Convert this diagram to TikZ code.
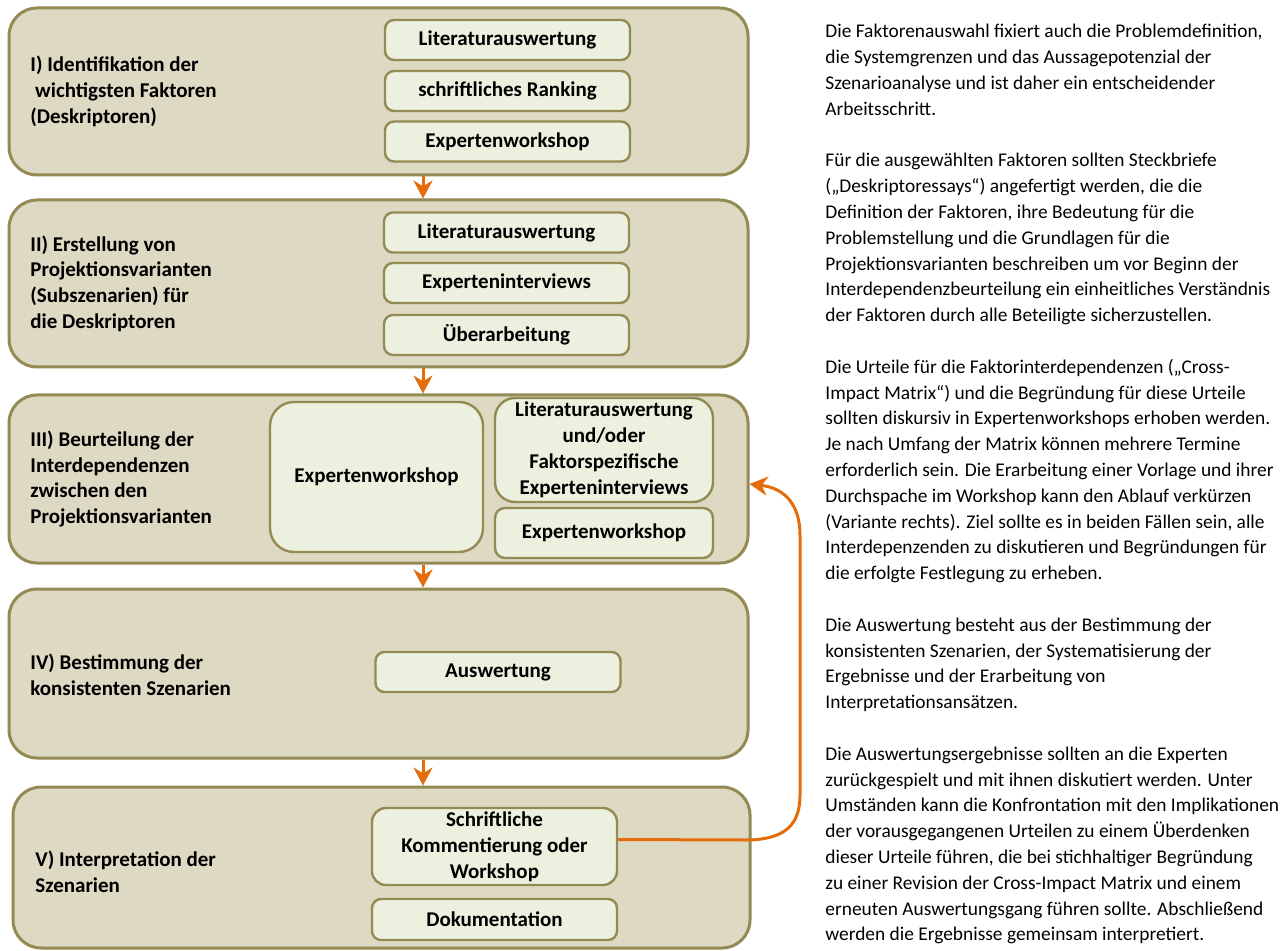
\documentclass[tikz,border=0pt]{standalone}
\usepackage{fontspec}
\setmainfont{Carlito}
\usetikzlibrary{arrows.meta}
\definecolor{stagefill}{HTML}{DDD9C3}
\definecolor{stageline}{HTML}{948A54}
\definecolor{taskfill}{HTML}{EBF1DE}
\definecolor{flowcol}{HTML}{E46C0A}

\begin{document}
\begin{tikzpicture}[x=0.5pt, y=-0.5pt,
	stage/.style={draw=stageline, line width=1.5pt, fill=stagefill, rounded corners=14pt, inner sep=0pt, minimum width=369.5pt},
	task/.style={draw=stageline, line width=1.2pt, fill=taskfill, rounded corners=4.5pt, inner sep=0pt, align=center, minimum width=122.5pt, minimum height=20pt, font=\bfseries\fontsize{10.5}{13}\selectfont},
	phase/.style={anchor=west, align=left, inner sep=0pt, font=\bfseries\fontsize{10.5}{12.85}\selectfont},
	flow/.style={draw=flowcol, line width=1.5pt, -{Stealth[length=9pt, width=9.5pt]}},
	note/.style={anchor=north west, align=left, inner sep=0pt, font=\fontsize{9.7}{12.9}\selectfont}]
	\useasboundingbox[fill=white] (0,0) rectangle (1288,951);
	
	\node[stage, minimum height=83.5pt] (s1) at (378.5,91.5) {};
	\node[stage, minimum height=83.5pt] (s2) at (378.5,283.5) {};
	\node[stage, minimum height=84pt] (s3) at (378.5,479) {};
	\node[stage, minimum height=84.5pt] (s4) at (378.5,673.5) {};
	\node[stage, minimum width=368.5pt, minimum height=80.5pt] (s5) at (381.5,867.5) {};
	
	\node[phase] (l1) at (30,91.5) {I) Identifikation der\\\hspace*{2.4pt}wichtigsten Faktoren\\(Deskriptoren)};
	\node[phase] (l2) at (30,283.5) {II) Erstellung von\\Projektionsvarianten\\(Subszenarien) für\\die Deskriptoren};
	\node[phase] (l3) at (30,479) {III) Beurteilung der\\Interdependenzen\\zwischen den\\Projektionsvarianten};
	\node[phase] (l4) at (30,674.5) {IV) Bestimmung der\\konsistenten Szenarien};
	\node[phase] (l5) at (35,871.5) {V) Interpretation der\\Szenarien};
	
	\node[task] (t11) at (507.5,40) {Literaturauswertung};
	\node[task] (t12) at (507.5,91) {schriftliches Ranking};
	\node[task] (t13) at (507.5,141.5) {Expertenworkshop};
	
	\node[task] (t21) at (506.5,232.5) {Literaturauswertung};
	\node[task] (t22) at (506.5,283) {Experteninterviews};
	\node[task] (t23) at (506.5,335) {Überarbeitung};
	
	\node[task, minimum width=106.5pt, minimum height=75pt, rounded corners=12pt] (t31) at (376.5,477) {Expertenworkshop};
	\node[task, minimum width=109pt, minimum height=52pt, rounded corners=10pt] (t32) at (604,450) {Literaturauswertung\\und/oder\\Faktorspezifische\\Experteninterviews};
	\node[task, minimum width=109pt, minimum height=25pt, rounded corners=5pt] (t33) at (604,533) {Expertenworkshop};
	
	\node[task] (t41) at (498,672) {Auswertung};
	
	\node[task, minimum height=38.5pt, rounded corners=7pt] (t51) at (494.5,846.5) {Schriftliche\\Kommentierung oder\\Workshop};
	\node[task, minimum height=20.5pt] (t52) at (494.5,919.5) {Dokumentation};
	
	\draw[flow] ([xshift=22.25pt]s1.south) -- ([xshift=22.25pt]s2.north);
	\draw[flow] ([xshift=22.25pt]s2.south) -- ([xshift=22.25pt]s3.north);
	\draw[flow] ([xshift=22.25pt]s3.south) -- ([xshift=22.25pt]s4.north);
	\draw[flow] ([xshift=22.25pt]s4.south) -- ([xshift=20.75pt]s5.north);
	%feedback from V to III
	\draw[flow] ([yshift=3.5pt]t51.east) -- (745,840) .. controls (785,840) and (800,825) .. (800,795) -- (800,535) .. controls (800,505) and (785,488) .. ([yshift=-2.5pt]s3.east);
	
	\node[note] (n1) at (825,24) {Die Faktorenauswahl fixiert auch die Problemdefinition,\\
		die Systemgrenzen und das Aussagepotenzial der\\
		Szenarioanalyse und ist daher ein entscheidender\\
		Arbeitsschritt.\\[12.9pt]
		Für die ausgewählten Faktoren sollten Steckbriefe\\
		(„Deskriptoressays“) angefertigt werden, die die\\
		Definition der Faktoren, ihre Bedeutung für die\\
		Problemstellung und die Grundlagen für die\\
		Projektionsvarianten beschreiben um vor Beginn der\\
		Interdependenzbeurteilung ein einheitliches Verständnis\\
		der Faktoren durch alle Beteiligte sicherzustellen.\\[12.9pt]
		Die Urteile für die Faktorinterdependenzen („Cross-\\
		Impact Matrix“) und die Begründung für diese Urteile\\
		sollten diskursiv in Expertenworkshops erhoben werden.\\
		Je nach Umfang der Matrix können mehrere Termine\\
		erforderlich sein. Die Erarbeitung einer Vorlage und ihrer\\
		Durchspache im Workshop kann den Ablauf verkürzen\\
		(Variante rechts). Ziel sollte es in beiden Fällen sein, alle\\
		Interdepenzenden zu diskutieren und Begründungen für\\
		die erfolgte Festlegung zu erheben.\\[12.9pt]
		Die Auswertung besteht aus der Bestimmung der\\
		konsistenten Szenarien, der Systematisierung der\\
		Ergebnisse und der Erarbeitung von\\
		Interpretationsansätzen.\\[12.9pt]
		Die Auswertungsergebnisse sollten an die Experten\\
		zurückgespielt und mit ihnen diskutiert werden. Unter\\
		Umständen kann die Konfrontation mit den Implikationen\\
		der vorausgegangenen Urteilen zu einem Überdenken\\
		dieser Urteile führen, die bei stichhaltiger Begründung\\
		zu einer Revision der Cross-Impact Matrix und einem\\
		erneuten Auswertungsgang führen sollte. Abschließend\\
		werden die Ergebnisse gemeinsam interpretiert.};
\end{tikzpicture}
\end{document}
